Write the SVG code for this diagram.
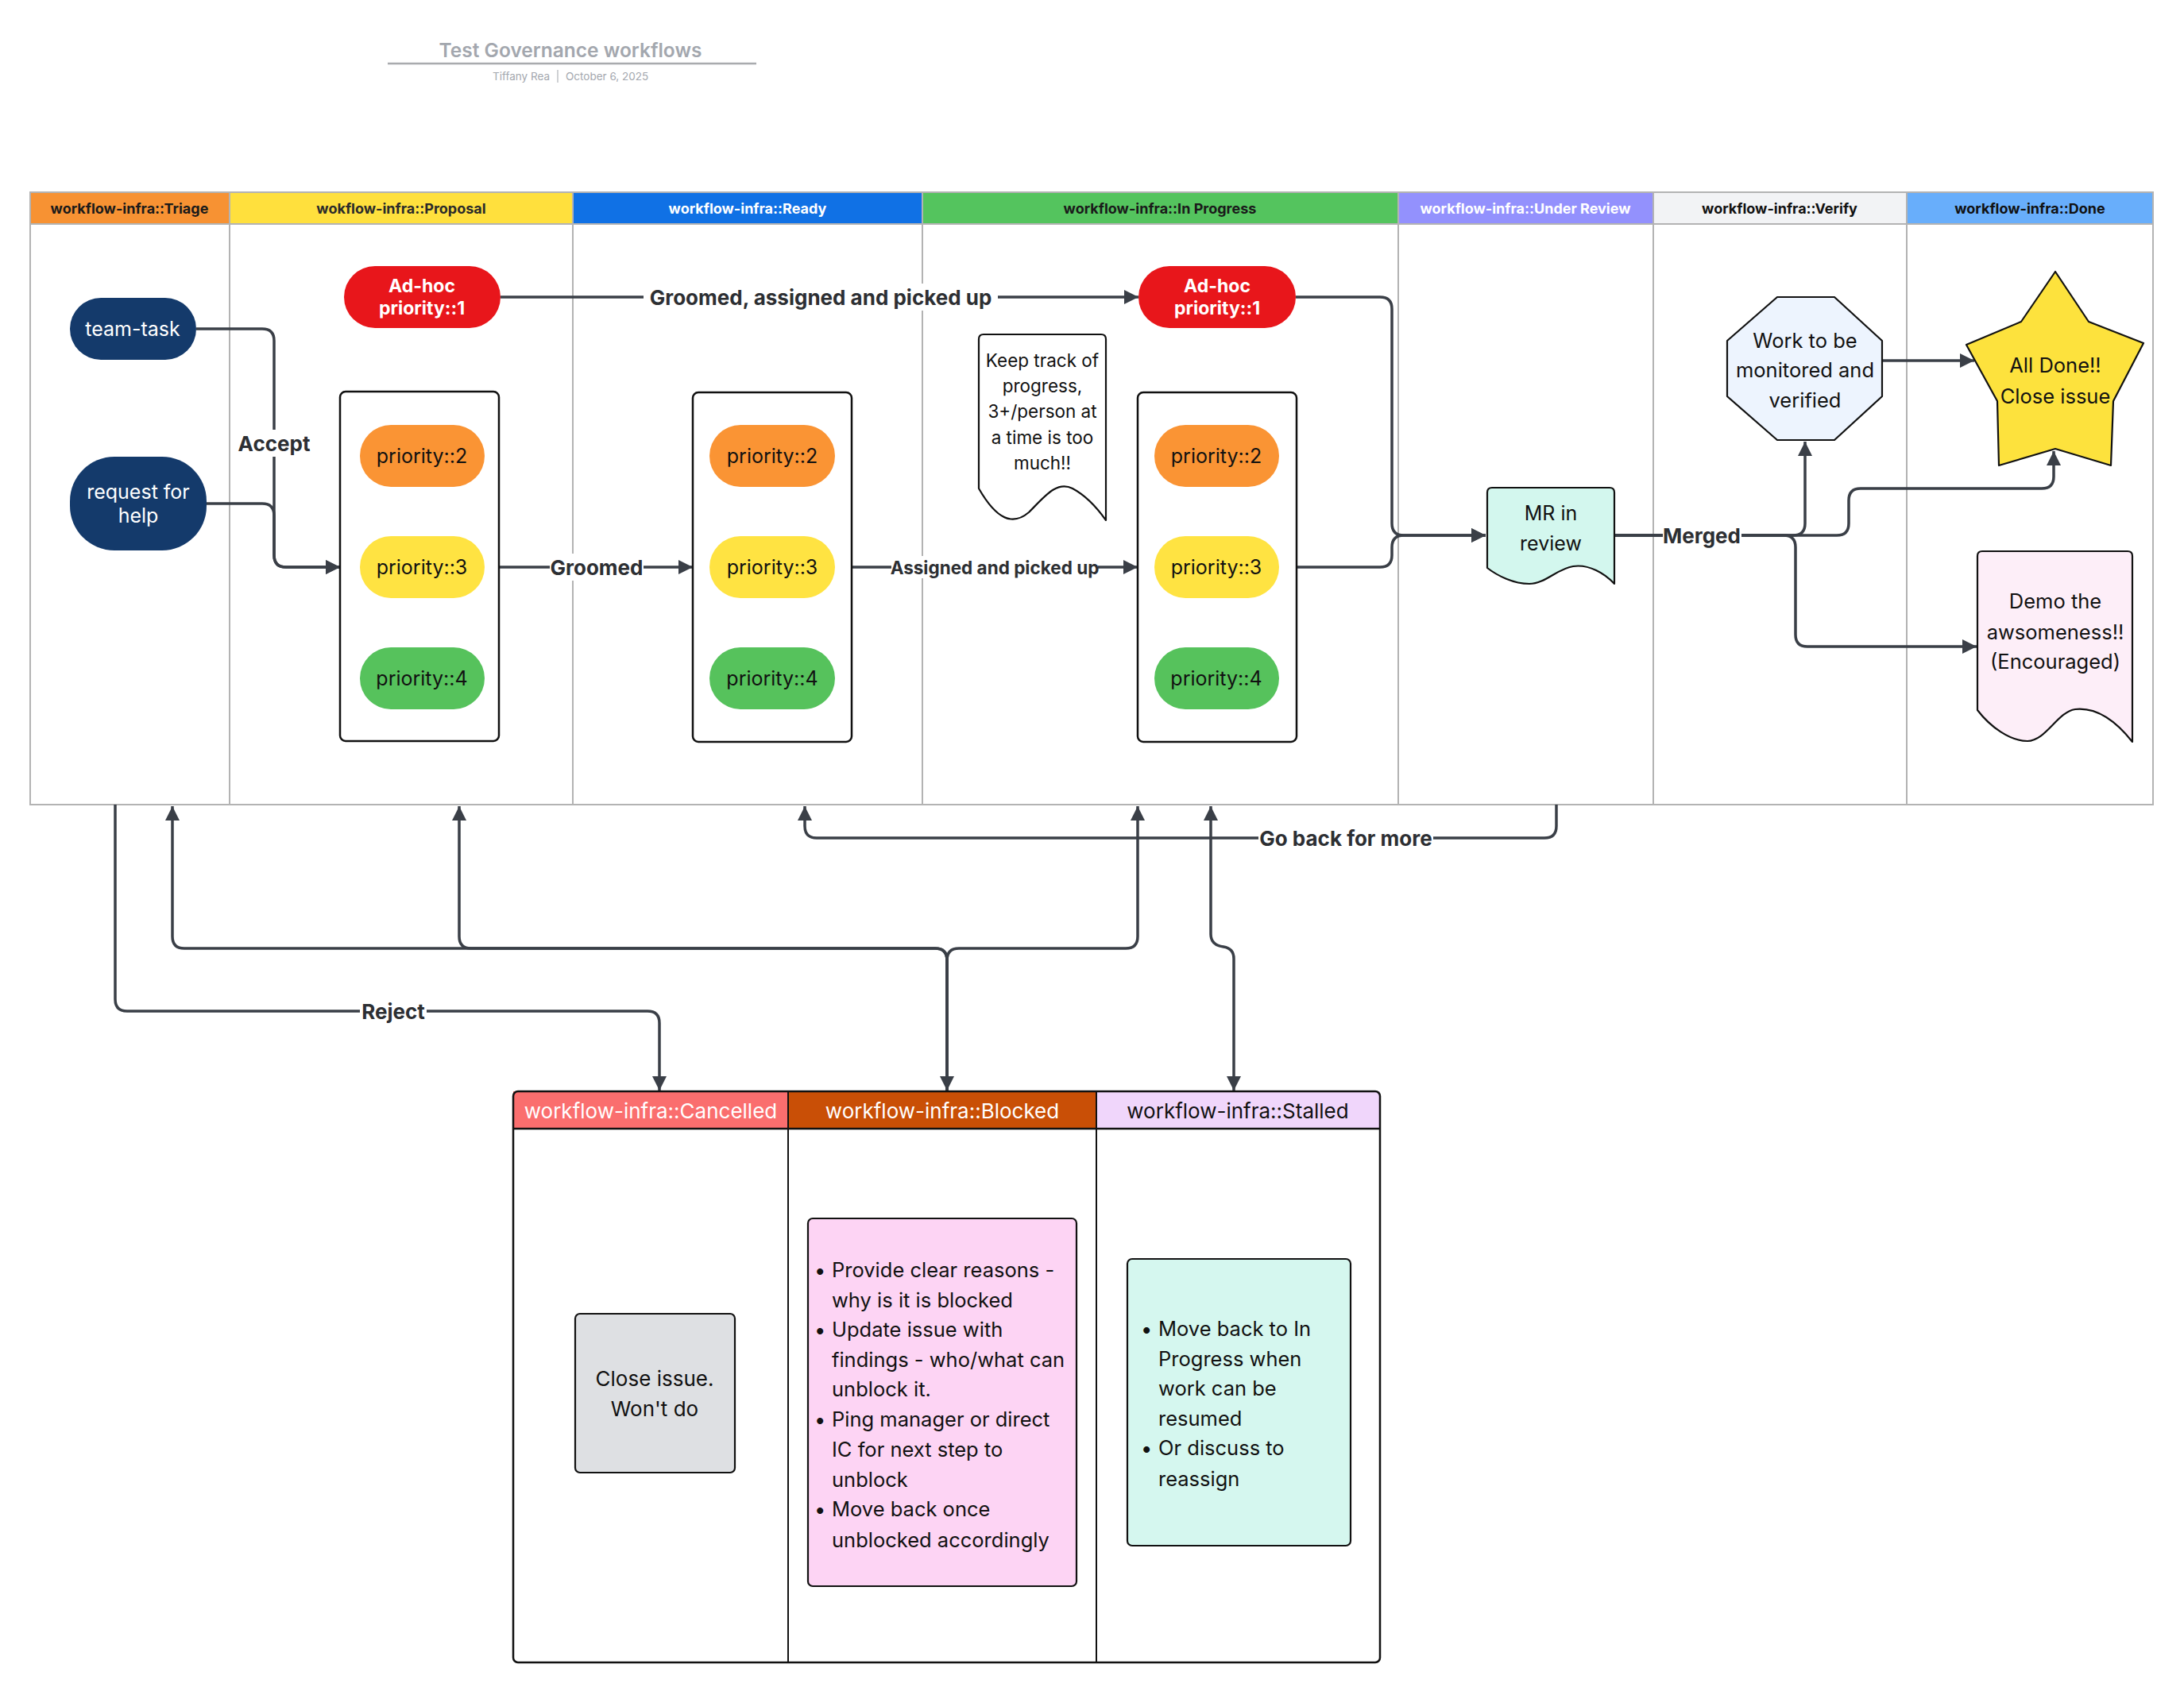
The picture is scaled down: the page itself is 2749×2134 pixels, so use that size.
<svg xmlns="http://www.w3.org/2000/svg" width="2749" height="2134" viewBox="0 0 2749 2134">
<defs>
<marker id="arr" markerUnits="userSpaceOnUse" markerWidth="20" markerHeight="18" refX="18" refY="9" orient="auto-start-reverse"><path d="M0,0 L18,9 L0,18 z" fill="#3a3f47"/></marker>
<style>
text{font-family:Inter,"Liberation Sans",sans-serif}
.hd{font-size:18px;font-weight:700;text-anchor:middle;dominant-baseline:central}
.lane{fill:none;stroke:#b3b3b3;stroke-width:2}
.cn{fill:none;stroke:#3a3f47;stroke-width:3.5;stroke-linejoin:round}
.lbl{font-size:26px;font-weight:700;fill:#2d2f33;text-anchor:middle;dominant-baseline:central}
.lb{fill:#fff}
.nt{font-size:25px;text-anchor:middle;dominant-baseline:central;fill:#111}
.wt{fill:#fff}
.ah{font-size:23px;font-weight:700}
.kt{font-size:22.5px}
.big{font-size:25.5px}
.th{font-size:26px}
.ct{fill:#fff;stroke:#111;stroke-width:2.5}
.sh{stroke:#111;stroke-width:2.2;stroke-linejoin:round}
.bt{font-size:25.5px;dominant-baseline:central;fill:#111}
</style>
</defs>
<rect width="2749" height="2134" fill="#fff"/>

<g id="title">
<text x="718" y="63" font-size="24.5" font-weight="600" fill="#a3a7ae" text-anchor="middle" dominant-baseline="central">Test Governance workflows</text>
<line x1="488" y1="80" x2="952" y2="80" stroke="#a9abae" stroke-width="2.5"/>
<text x="692" y="96" font-size="13.5" fill="#a3a7ae" text-anchor="end" dominant-baseline="central">Tiffany Rea</text>
<line x1="702" y1="88" x2="702" y2="104" stroke="#b0b3b8" stroke-width="1.2"/>
<text x="712" y="96" font-size="13.5" fill="#a3a7ae" dominant-baseline="central">October 6, 2025</text>
</g>

<g id="swimlanes">
<rect x="38" y="242" width="251" height="40" fill="#f79233"/>
<rect x="289" y="242" width="432" height="40" fill="#ffe03d"/>
<rect x="721" y="242" width="440" height="40" fill="#1071e5"/>
<rect x="1161" y="242" width="599" height="40" fill="#54c45e"/>
<rect x="1760" y="242" width="321" height="40" fill="#9391fd"/>
<rect x="2081" y="242" width="319" height="40" fill="#f2f3f5"/>
<rect x="2400" y="242" width="310" height="40" fill="#68aefb"/>
<rect class="lane" x="38" y="242" width="2672" height="771"/>
<line class="lane" x1="38" y1="282" x2="2710" y2="282"/>
<line class="lane" x1="289" y1="242" x2="289" y2="1013"/>
<line class="lane" x1="721" y1="242" x2="721" y2="1013"/>
<line class="lane" x1="1161" y1="242" x2="1161" y2="1013"/>
<line class="lane" x1="1760" y1="242" x2="1760" y2="1013"/>
<line class="lane" x1="2081" y1="242" x2="2081" y2="1013"/>
<line class="lane" x1="2400" y1="242" x2="2400" y2="1013"/>
<text class="hd" x="163" y="262" fill="#1a1a1a">workflow-infra::Triage</text>
<text class="hd" x="505" y="262" fill="#2a2a2a">wokflow-infra::Proposal</text>
<text class="hd" x="941" y="262" fill="#fff">workflow-infra::Ready</text>
<text class="hd" x="1460" y="262" fill="#1a1a1a">workflow-infra::In Progress</text>
<text class="hd" x="1920" y="262" fill="#fff">workflow-infra::Under Review</text>
<text class="hd" x="2240" y="262" fill="#111">workflow-infra::Verify</text>
<text class="hd" x="2555" y="262" fill="#111">workflow-infra::Done</text>
</g>

<g id="connectors">
<path class="cn" d="M247 414 H330 Q345 414 345 429 V699 Q345 714 360 714 H428" marker-end="url(#arr)"/>
<path class="cn" d="M260 634 H330 Q345 634 345 649 V699 Q345 714 360 714 H428" marker-end="url(#arr)"/>
<path class="cn" d="M630 374 H1433" marker-end="url(#arr)"/>
<path class="cn" d="M628 714 H872" marker-end="url(#arr)"/>
<path class="cn" d="M1072 714 H1432" marker-end="url(#arr)"/>
<path class="cn" d="M1631 374 H1737 Q1752 374 1752 389 V659 Q1752 674 1767 674 H1870" marker-end="url(#arr)"/>
<path class="cn" d="M1632 714 H1737 Q1752 714 1752 699 V689 Q1752 674 1767 674 H1870" marker-end="url(#arr)"/>
<path class="cn" d="M2032 674 H2257 Q2272 674 2272 659 V556" marker-end="url(#arr)"/>
<path class="cn" d="M2032 674 H2312 Q2327 674 2327 659 V630 Q2327 615 2342 615 H2570 Q2585 615 2585 600 V568" marker-end="url(#arr)"/>
<path class="cn" d="M2032 674 H2245 Q2260 674 2260 689 V799 Q2260 814 2275 814 H2488" marker-end="url(#arr)"/>
<path class="cn" d="M2369 454 H2485" marker-end="url(#arr)"/>
<path class="cn" d="M145 1013 V1258 Q145 1273 160 1273 H815 Q830 1273 830 1288 V1373" marker-end="url(#arr)"/>
<path class="cn" d="M1192 1373 V1209 Q1192 1194 1177 1194 H232 Q217 1194 217 1179 V1015" marker-start="url(#arr)" marker-end="url(#arr)"/>
<path class="cn" d="M1192 1373 V1209 Q1192 1194 1177 1194 H593 Q578 1194 578 1179 V1015" marker-end="url(#arr)"/>
<path class="cn" d="M1192 1373 V1209 Q1192 1194 1207 1194 H1417 Q1432 1194 1432 1179 V1015" marker-end="url(#arr)"/>
<path class="cn" d="M1553 1373 V1207 Q1553 1194 1540 1192 Q1524 1190 1524 1176 V1015" marker-start="url(#arr)" marker-end="url(#arr)"/>
<path class="cn" d="M1959 1013 V1040 Q1959 1055 1944 1055 H1028 Q1013 1055 1013 1040 V1015" marker-end="url(#arr)"/>
<rect class="lb" x="298" y="541" width="95" height="34"/>
<text class="lbl" x="345" y="558">Accept</text>
<rect class="lb" x="810" y="357" width="446" height="34"/>
<text class="lbl" x="1033" y="374">Groomed, assigned and picked up</text>
<rect class="lb" x="692" y="697" width="118" height="34"/>
<text class="lbl" x="751" y="714">Groomed</text>
<rect class="lb" x="1122" y="700" width="260" height="28"/>
<text class="lbl" x="1252" y="714" style="font-size:22.5px">Assigned and picked up</text>
<rect class="lb" x="2093" y="657" width="99" height="34"/>
<text class="lbl" x="2142" y="674">Merged</text>
<rect class="lb" x="453" y="1256" width="84" height="34"/>
<text class="lbl" x="495" y="1273">Reject</text>
<rect class="lb" x="1584" y="1038" width="220" height="34"/>
<text class="lbl" x="1694" y="1055">Go back for more</text>
</g>

<g id="team-task"><rect x="88" y="375" width="159" height="78" rx="39" fill="#143a6b"/><text class="nt wt" x="167" y="414">team-task</text></g>
<g id="request-for-help"><rect x="88" y="575" width="172" height="118" rx="56" fill="#143a6b"/><text class="nt wt" x="174" y="619">request for</text><text class="nt wt" x="174" y="649">help</text></g>
<g id="adhoc-proposal"><rect x="433" y="335" width="197" height="78" rx="39" fill="#e8161b"/><text class="nt wt ah" x="531" y="360">Ad-hoc</text><text class="nt wt ah" x="531" y="388">priority::1</text></g>
<g id="proposal-stack">
<rect class="ct" x="428" y="493" width="200" height="440" rx="7"/>
<rect x="453" y="535" width="157" height="78" rx="39" fill="#fa9434"/><text class="nt" x="531" y="574">priority::2</text>
<rect x="453" y="675" width="157" height="78" rx="39" fill="#ffe342"/><text class="nt" x="531" y="714">priority::3</text>
<rect x="453" y="815" width="157" height="78" rx="39" fill="#56c25c"/><text class="nt" x="531" y="854">priority::4</text>
</g>
<g id="ready-stack">
<rect class="ct" x="872" y="494" width="200" height="440" rx="7"/>
<rect x="893" y="535" width="158" height="78" rx="39" fill="#fa9434"/><text class="nt" x="972" y="574">priority::2</text>
<rect x="893" y="675" width="158" height="78" rx="39" fill="#ffe342"/><text class="nt" x="972" y="714">priority::3</text>
<rect x="893" y="815" width="158" height="78" rx="39" fill="#56c25c"/><text class="nt" x="972" y="854">priority::4</text>
</g>
<g id="adhoc-inprogress"><rect x="1433" y="335" width="198" height="78" rx="39" fill="#e8161b"/><text class="nt wt ah" x="1532" y="360">Ad-hoc</text><text class="nt wt ah" x="1532" y="388">priority::1</text></g>
<g id="inprogress-stack">
<rect class="ct" x="1432" y="494" width="200" height="440" rx="7"/>
<rect x="1453" y="535" width="157" height="78" rx="39" fill="#fa9434"/><text class="nt" x="1531" y="574">priority::2</text>
<rect x="1453" y="675" width="157" height="78" rx="39" fill="#ffe342"/><text class="nt" x="1531" y="714">priority::3</text>
<rect x="1453" y="815" width="157" height="78" rx="39" fill="#56c25c"/><text class="nt" x="1531" y="854">priority::4</text>
</g>
<g id="keep-track-note">
<path class="sh" fill="#fff" d="M1238 421 H1386 Q1392 421 1392 427 V655 C1380 638 1365 623 1350 615 C1330 605 1315 625 1295 645 C1275 662 1255 655 1232 615 V427 Q1232 421 1238 421 Z"/>
<text class="nt kt" x="1312" y="453">Keep track of</text>
<text class="nt kt" x="1312" y="485">progress,</text>
<text class="nt kt" x="1312" y="517">3+/person at</text>
<text class="nt kt" x="1312" y="550">a time is too</text>
<text class="nt kt" x="1312" y="582">much!!</text>
</g>
<g id="mr-in-review">
<path class="sh" fill="#d3f7ee" d="M1878 614 H2026 Q2032 614 2032 620 V735 C2020 722 2000 710 1980 713 C1960 716 1945 735 1925 735 C1905 735 1885 725 1872 715 V620 Q1872 614 1878 614 Z"/>
<text class="nt" x="1952" y="646">MR in</text><text class="nt" x="1952" y="684">review</text>
</g>
<g id="verify-octagon">
<polygon class="sh" fill="#edf4fe" points="2237,374 2309,374 2369,429 2369,499 2309,554 2237,554 2174,499 2174,429"/>
<text class="nt big" x="2272" y="428">Work to be</text><text class="nt big" x="2272" y="465">monitored and</text><text class="nt big" x="2272" y="503">verified</text>
</g>
<g id="all-done-star">
<polygon class="sh" fill="#fde23d" points="2587,342 2629,405 2698,432 2660,505 2657,586 2587,565 2516,586 2514,505 2475,434 2544,405"/>
<text class="nt big" x="2587" y="459">All Done!!</text><text class="nt big" x="2587" y="498">Close issue</text>
</g>
<g id="demo-note">
<path class="sh" fill="#fdeef8" d="M2495 694 H2678 Q2684 694 2684 700 V934 C2665 910 2640 890 2612 893 C2590 896 2575 933 2552 933 C2530 933 2505 915 2489 894 V700 Q2489 694 2495 694 Z"/>
<text class="nt big" x="2587" y="756">Demo the</text><text class="nt big" x="2587" y="795">awsomeness!!</text><text class="nt big" x="2587" y="832">(Encouraged)</text>
</g>

<g id="status-table">
<rect x="646" y="1374" width="346" height="47" fill="#fa6e6e"/>
<rect x="992" y="1374" width="388" height="47" fill="#c94f06"/>
<rect x="1380" y="1374" width="357" height="47" fill="#f0d6fb"/>
<rect x="646" y="1374" width="1091" height="719" rx="6" fill="none" stroke="#111" stroke-width="2.5"/>
<line x1="646" y1="1421" x2="1737" y2="1421" stroke="#111" stroke-width="2.5"/>
<line x1="992" y1="1374" x2="992" y2="2093" stroke="#111" stroke-width="2"/>
<line x1="1380" y1="1374" x2="1380" y2="2093" stroke="#111" stroke-width="2"/>
<text class="nt th wt" x="819" y="1398">workflow-infra::Cancelled</text>
<text class="nt th wt" x="1186" y="1398">workflow-infra::Blocked</text>
<text class="nt th" x="1558" y="1398">workflow-infra::Stalled</text>
</g>
<g id="cancelled-card">
<rect class="sh" x="724" y="1654" width="201" height="200" rx="6" fill="#dee0e3"/>
<text class="nt th" x="824" y="1735">Close issue.</text><text class="nt th" x="824" y="1773">Won't do</text>
</g>
<g id="blocked-card">
<rect class="sh" x="1017" y="1534" width="338" height="463" rx="6" fill="#fdd4f4"/>
<text class="bt" x="1025" y="1598">•</text><text class="bt" x="1047" y="1598">Provide clear reasons -</text>
<text class="bt" x="1047" y="1636">why is it is blocked</text>
<text class="bt" x="1025" y="1673">•</text><text class="bt" x="1047" y="1673">Update issue with</text>
<text class="bt" x="1047" y="1711">findings - who/what can</text>
<text class="bt" x="1047" y="1748">unblock it.</text>
<text class="bt" x="1025" y="1786">•</text><text class="bt" x="1047" y="1786">Ping manager or direct</text>
<text class="bt" x="1047" y="1824">IC for next step to</text>
<text class="bt" x="1047" y="1862">unblock</text>
<text class="bt" x="1025" y="1899">•</text><text class="bt" x="1047" y="1899">Move back once</text>
<text class="bt" x="1047" y="1938">unblocked accordingly</text>
</g>
<g id="stalled-card">
<rect class="sh" x="1419" y="1585" width="281" height="361" rx="6" fill="#d5f7ef"/>
<text class="bt" x="1436" y="1672">•</text><text class="bt" x="1458" y="1672">Move back to In</text>
<text class="bt" x="1458" y="1710">Progress when</text>
<text class="bt" x="1458" y="1747">work can be</text>
<text class="bt" x="1458" y="1785">resumed</text>
<text class="bt" x="1436" y="1822">•</text><text class="bt" x="1458" y="1822">Or discuss to</text>
<text class="bt" x="1458" y="1861">reassign</text>
</g>
</svg>
